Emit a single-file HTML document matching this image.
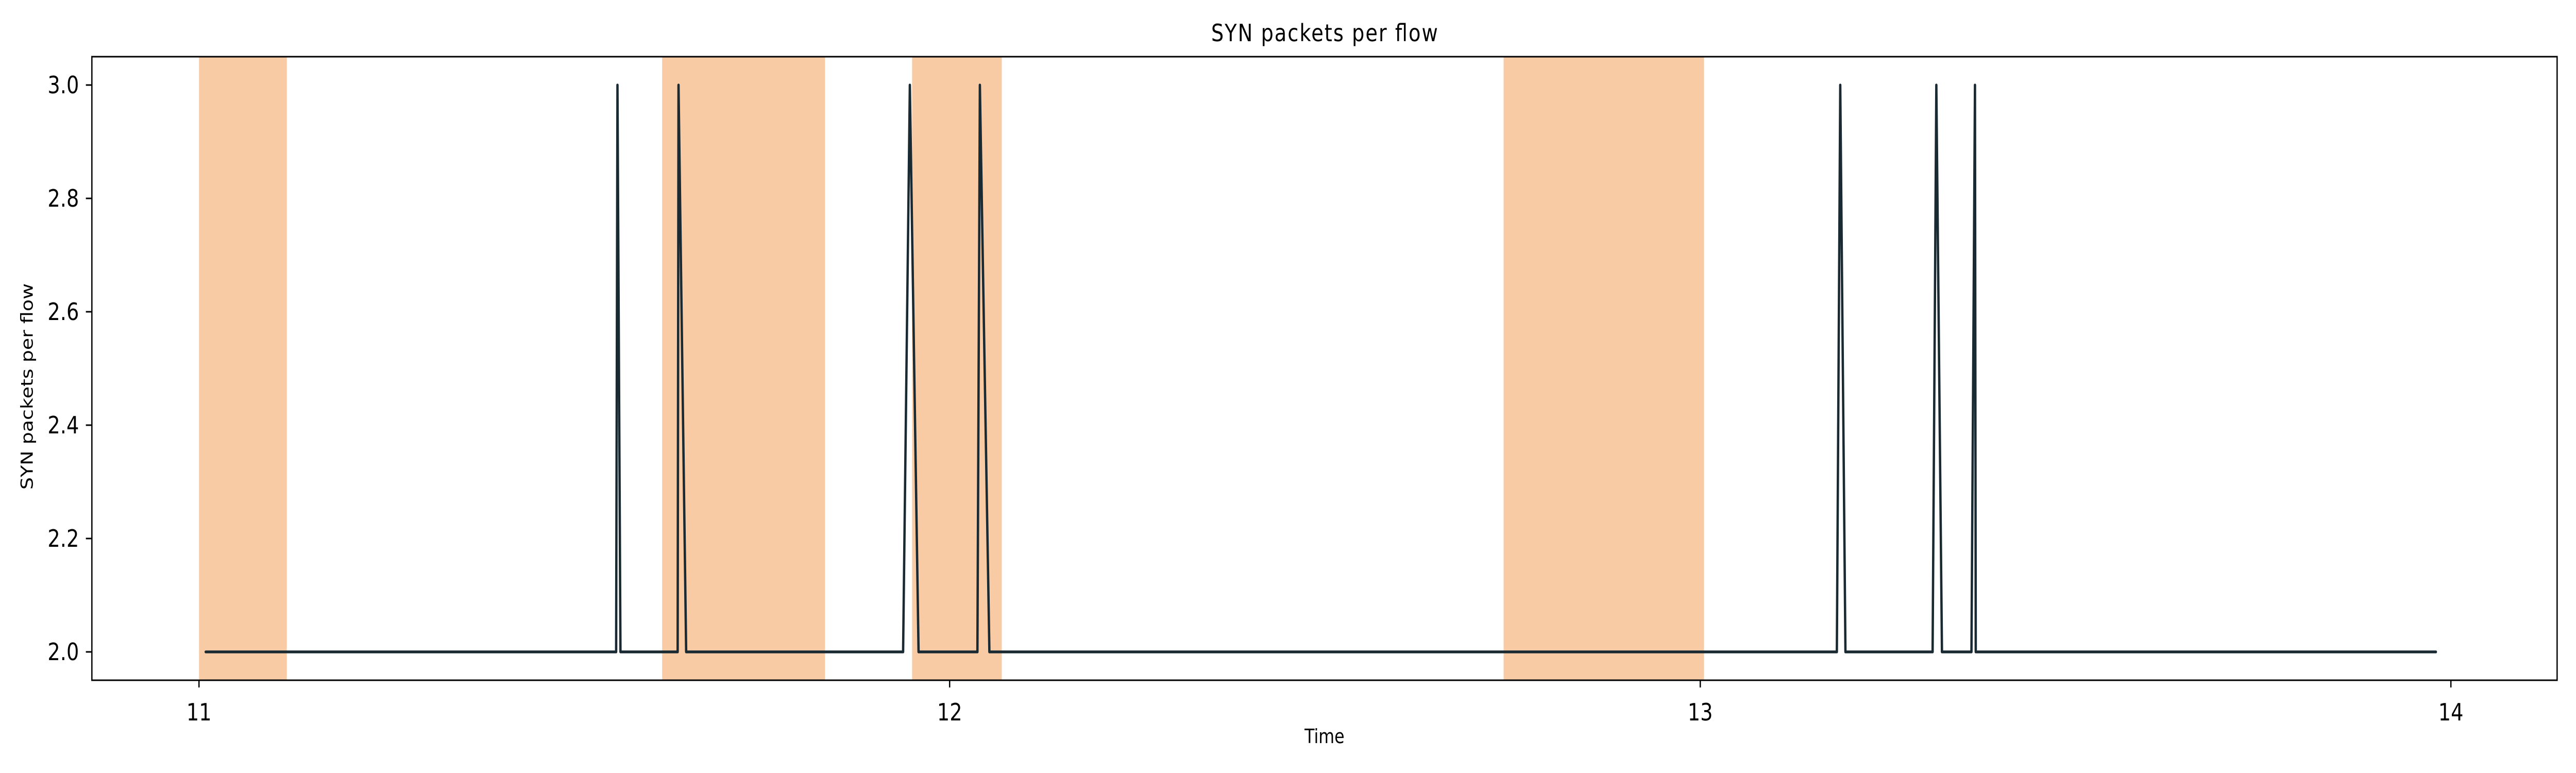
<!DOCTYPE html>
<html><head><meta charset="utf-8"><meta name="viewport" content="width=6000, initial-scale=1"><style>
html,body{margin:0;padding:0;background:#fff;overflow:hidden;width:100vw;height:100vh}
svg{display:block;width:100vw;height:100vh}
text{font-family:"DejaVu Sans","Liberation Sans",sans-serif;fill:#000}
</style></head><body>
<svg id="chart" viewBox="0 0 6000 1500" preserveAspectRatio="none">
<rect width="6000" height="1500" fill="#fff"/>
<g id="spans"></g>
<g id="series"></g>
<g id="axes"></g>
<text x="3085" y="80" font-size="46" text-anchor="middle" textLength="528">SYN packets per flow</text>
<text x="3085" y="1442" font-size="38" text-anchor="middle">Time</text>
<text transform="translate(76,750) rotate(-90)" font-size="38" text-anchor="middle">SYN packets per flow</text>
</svg>
<script>
const spanStarts=[11.0,11.617,11.950,12.738];
const spanEnds=[11.117,11.834,12.0695,13.005];
const timeValues=[11.009,11.5557,11.5575,11.5615,11.6377,11.6388,11.649,11.938,11.947,11.9586,12.037,12.0403,12.053,13.182,13.1865,13.1934,13.3095,13.3145,13.322,13.3613,13.366,13.367,13.98];
const synValues=[2,2,3,2,2,3,2,2,3,2,2,3,2,2,3,2,2,3,2,2,3,2,2];
const xTicks=[11,12,13,14];
const xTickLabels=["11","12","13","14"];
const yTicks=[2.0,2.2,2.4,2.6,2.8,3.0];
const yTickLabels=["2.0","2.2","2.4","2.6","2.8","3.0"];

const L=214,R=5956,T=110,B=1320;
const X0=10.8573,X1=14.1415,Y0=1.95,Y1=3.05;
function sx(v){return L+(v-X0)/(X1-X0)*(R-L);}
function sy(v){return B-(v-Y0)/(Y1-Y0)*(B-T);}
const NS="http://www.w3.org/2000/svg";
function mk(tag,attrs,parent){const e=document.createElementNS(NS,tag);for(const k in attrs)e.setAttribute(k,attrs[k]);parent.appendChild(e);return e;}

const gs=document.getElementById('spans');
for(let i=0;i<spanStarts.length;i++){
  const r=mk('rect',{x:sx(spanStarts[i]),y:T,width:sx(spanEnds[i])-sx(spanStarts[i]),height:B-T,fill:'#f8cba5'},gs);
  
  
}
const gl=document.getElementById('series');
const pts=timeValues.map((t,i)=>sx(t).toFixed(1)+','+sy(synValues[i]).toFixed(1)).join(' ');
const pl=mk('polyline',{points:pts,fill:'none',stroke:'#1a2a32','stroke-width':5.5,'stroke-linejoin':'round','stroke-linecap':'round'},gl);



const ga=document.getElementById('axes');
const frame=mk('rect',{x:L,y:T,width:R-L,height:B-T,fill:'none',stroke:'#000','stroke-width':3},ga);


xTicks.forEach((v,i)=>{
  const x=sx(v);
  const tk=mk('line',{x1:x,y1:B,x2:x,y2:B+14,stroke:'#000','stroke-width':3},ga);
  
  
  const tx=mk('text',{x:x,y:1398,'font-size':46,'text-anchor':'middle'},ga);
  tx.textContent=xTickLabels[i];
  
  
});
yTicks.forEach((v,i)=>{
  const y=sy(v);
  const tk=mk('line',{x1:L-14,y1:y,x2:L,y2:y,stroke:'#000','stroke-width':3},ga);
  
  
  const tx=mk('text',{x:184,y:y+16,'font-size':46,'text-anchor':'end'},ga);
  tx.textContent=yTickLabels[i];
  
  
});
</script>
</body></html>
